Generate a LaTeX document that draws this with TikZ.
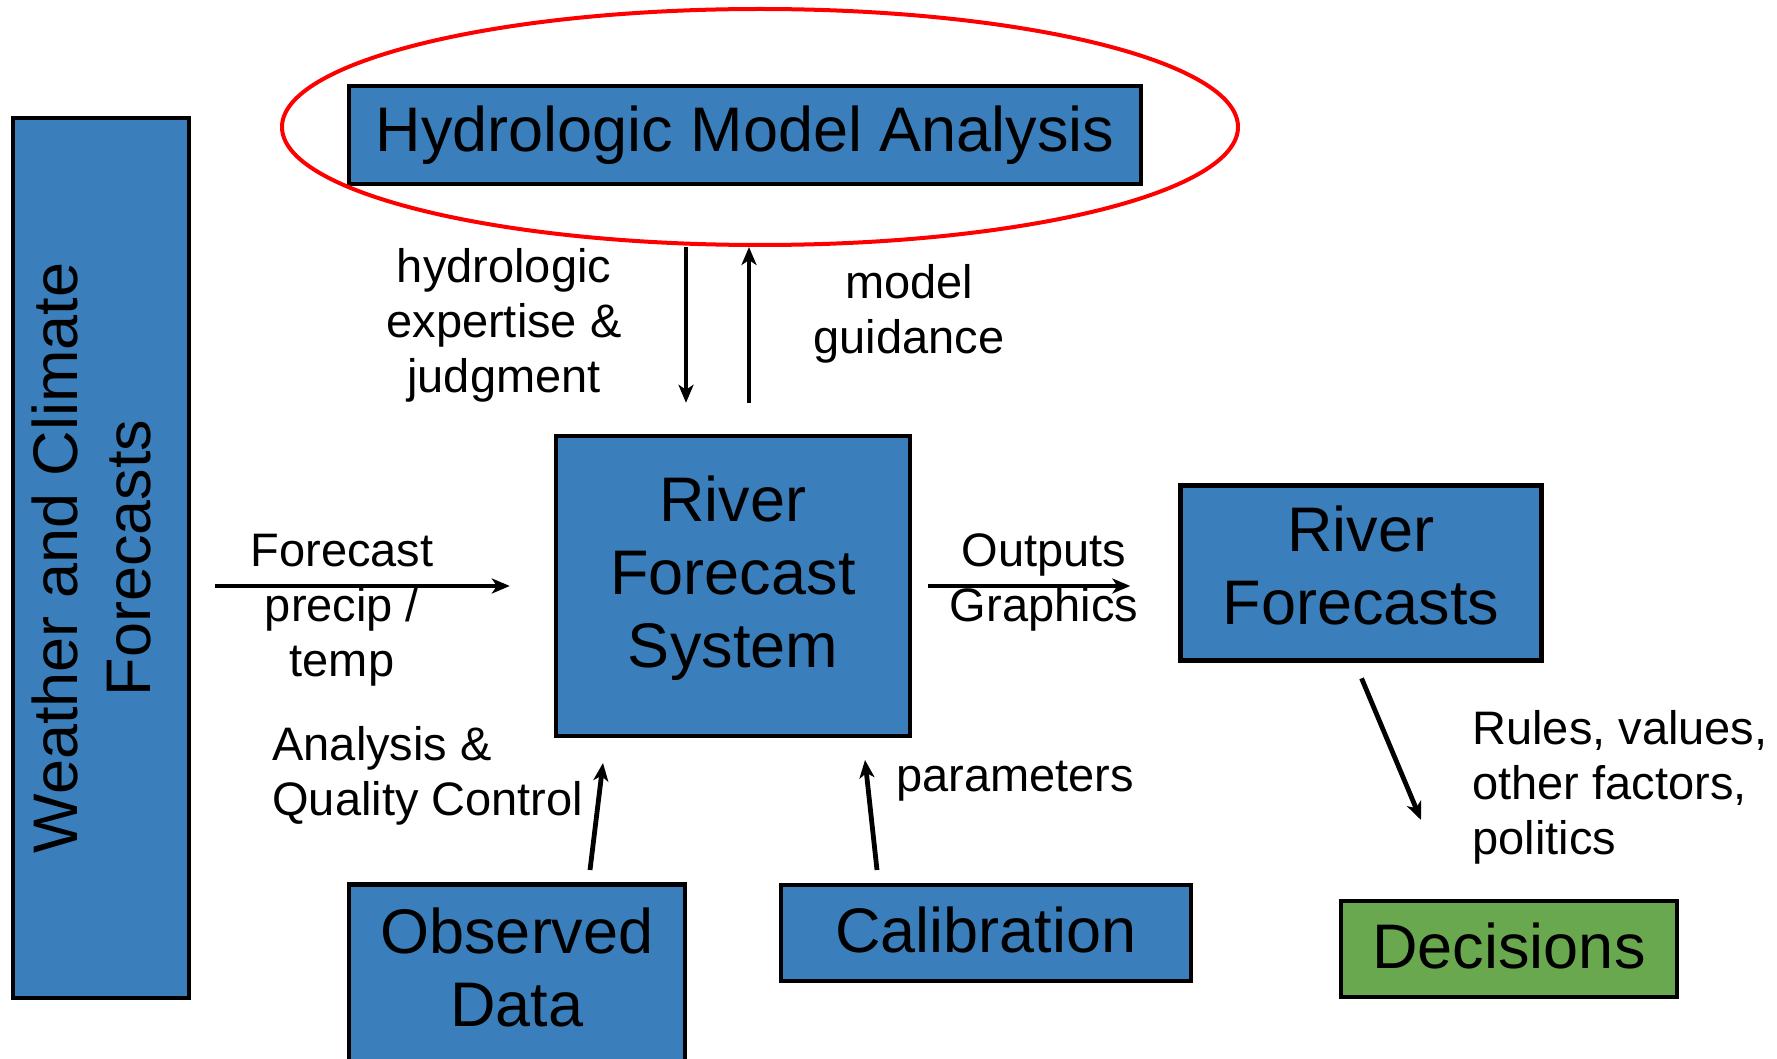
\documentclass[tikz,border=0pt]{standalone}
\usepackage{fontspec}
\setmainfont{Liberation Sans}
\usetikzlibrary{arrows.meta,shapes.geometric}

\begin{document}
\begin{tikzpicture}[x=0.5pt, y=-0.5pt,
    box/.style={draw=black, line width=2.2pt, fill=my-blue, align=center, inner sep=0pt,
      font=\fontsize{31.5}{36.5}\selectfont},
    lbl/.style={align=center, inner sep=0pt, font=\fontsize{23.5}{27.5}\selectfont},
    arr/.style={-{Stealth[length=9pt,width=7.5pt,inset=2.5pt]}, line width=2.4pt}]
    \definecolor{my-blue}{RGB}{58,127,188}
    \definecolor{my-green}{RGB}{106,168,79}
    \useasboundingbox (0,0) rectangle (1777,1059);
    \node[box, rotate=90, text depth=10pt, minimum width=440pt, minimum height=88pt] (wcf) at (101,558) {Weather and Climate\\Forecasts};
    \node[box, minimum width=396pt, minimum height=49pt] (hma) at (745,135) {Hydrologic Model Analysis};
    \node[ellipse, draw=red, line width=2pt, minimum width=478pt, minimum height=118pt] (ring) at (760,127) {};
    \node[box, text depth=14.6pt, minimum width=177pt, minimum height=150pt] (rfs) at (733,586) {River\\Forecast\\System};
    \node[box, text depth=8pt, minimum width=180.5pt, minimum height=87.5pt] (rf) at (1361,573) {River\\Forecasts};
    \node[box, text depth=8pt, minimum width=168pt, minimum height=90.5pt] (obs) at (517,975) {Observed\\Data};
    \node[box, text depth=3pt, minimum width=205pt, minimum height=48pt] (cal) at (986,933) {Calibration};
    \node[box, text depth=3pt, fill=my-green, minimum width=168pt, minimum height=48pt] (dec) at (1509,949) {Decisions};
    \node[lbl] (hej) at (504,325) {hydrologic\\expertise \&\\judgment};
    \node[lbl] (mg) at (909,314) {model\\guidance};
    \node[lbl] (fpt) at (342,610) {Forecast\\precip /\\temp};
    \node[lbl] (og) at (1044,582) {Outputs\\Graphics};
    \node[lbl, align=left, anchor=west] (aqc) at (272,776) {Analysis \&\\Quality Control};
    \node[lbl, anchor=west] (par) at (896,781) {parameters};
    \node[lbl, align=left, anchor=west] (rvp) at (1472,787) {Rules, values,\\other factors,\\politics};
    \coordinate (dn) at (686,0);
    \coordinate (up) at (749,0);
    \coordinate (aqcfoot) at (590,870);
    \coordinate (aqchead) at (603,763);
    \coordinate (parfoot) at (877,870);
    \coordinate (parhead) at (865,760);
    \coordinate (dechead) at (1421,820);
    \draw[arr, shorten >=15.5pt] (dn |- ring.south) -- (dn |- rfs.north);
    \draw[arr, shorten <=15.5pt] (up |- rfs.north) -- (up |- ring.south);
    \draw[arr, shorten <=12pt, shorten >=22pt] (wcf.south |- rfs.west) -- (rfs.west);
    \draw[arr, shorten <=8pt, shorten >=24pt] (rfs.east) -- (rfs.east -| rf.west);
    \draw[arr] (aqcfoot) -- (aqchead);
    \draw[arr] (parfoot) -- (parhead);
    \draw[arr, shorten <=8.5pt] ([xshift=-3pt]rf.south) -- (dechead);
  \end{tikzpicture}
\end{document}
